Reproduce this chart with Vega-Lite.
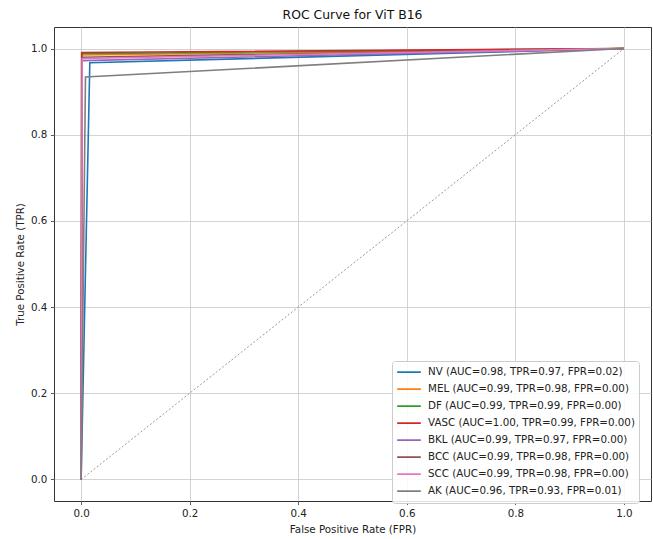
{
  "$schema": "https://vega.github.io/schema/vega-lite/v6.json",
  "width": 597,
  "height": 474,
  "autosize": {"type": "none"},
  "padding": {"left": 54, "top": 27, "right": 2, "bottom": 38},
  "title": {"text": "ROC Curve for ViT B16", "font": "DejaVu Sans", "fontSize": 12.4, "fontWeight": "normal", "color": "#111111", "offset": 6, "anchor": "middle"},
  "config": {
    "view": {"stroke": "#333333", "strokeWidth": 1},
    "font": "DejaVu Sans",
    "axis": {
      "labelFont": "DejaVu Sans", "labelFontSize": 10.3, "labelColor": "#222222",
      "titleFont": "DejaVu Sans", "titleFontSize": 10.3, "titleFontWeight": "normal", "titleColor": "#222222",
      "tickSize": 3.6, "tickColor": "#333333", "tickWidth": 0.8, "labelPadding": 3.6,
      "grid": true, "gridColor": "#c8c8c8", "gridWidth": 0.8,
      "domain": false, "labelFlush": false, "labelOverlap": false
    }
  },
  "datasets": {
    "diag": [
      {"x": 0, "y": 0},
      {"x": 1, "y": 1}
    ],
    "roc": [
      {"label": "NV (AUC=0.98, TPR=0.97, FPR=0.02)", "i": 0, "fpr": 0, "tpr": 0},
      {"label": "NV (AUC=0.98, TPR=0.97, FPR=0.02)", "i": 1, "fpr": 0.016, "tpr": 0.967},
      {"label": "NV (AUC=0.98, TPR=0.97, FPR=0.02)", "i": 2, "fpr": 1, "tpr": 1},
      {"label": "MEL (AUC=0.99, TPR=0.98, FPR=0.00)", "i": 0, "fpr": 0, "tpr": 0},
      {"label": "MEL (AUC=0.99, TPR=0.98, FPR=0.00)", "i": 1, "fpr": 0.002, "tpr": 0.985},
      {"label": "MEL (AUC=0.99, TPR=0.98, FPR=0.00)", "i": 2, "fpr": 1, "tpr": 1},
      {"label": "DF (AUC=0.99, TPR=0.99, FPR=0.00)", "i": 0, "fpr": 0, "tpr": 0},
      {"label": "DF (AUC=0.99, TPR=0.99, FPR=0.00)", "i": 1, "fpr": 0.001, "tpr": 0.988},
      {"label": "DF (AUC=0.99, TPR=0.99, FPR=0.00)", "i": 2, "fpr": 1, "tpr": 1},
      {"label": "VASC (AUC=1.00, TPR=0.99, FPR=0.00)", "i": 0, "fpr": 0, "tpr": 0},
      {"label": "VASC (AUC=1.00, TPR=0.99, FPR=0.00)", "i": 1, "fpr": 0.001, "tpr": 0.991},
      {"label": "VASC (AUC=1.00, TPR=0.99, FPR=0.00)", "i": 2, "fpr": 1, "tpr": 1},
      {"label": "BKL (AUC=0.99, TPR=0.97, FPR=0.00)", "i": 0, "fpr": 0, "tpr": 0},
      {"label": "BKL (AUC=0.99, TPR=0.97, FPR=0.00)", "i": 1, "fpr": 0.002, "tpr": 0.972},
      {"label": "BKL (AUC=0.99, TPR=0.97, FPR=0.00)", "i": 2, "fpr": 1, "tpr": 1},
      {"label": "BCC (AUC=0.99, TPR=0.98, FPR=0.00)", "i": 0, "fpr": 0, "tpr": 0},
      {"label": "BCC (AUC=0.99, TPR=0.98, FPR=0.00)", "i": 1, "fpr": 0.002, "tpr": 0.980},
      {"label": "BCC (AUC=0.99, TPR=0.98, FPR=0.00)", "i": 2, "fpr": 1, "tpr": 1},
      {"label": "SCC (AUC=0.99, TPR=0.98, FPR=0.00)", "i": 0, "fpr": 0, "tpr": 0},
      {"label": "SCC (AUC=0.99, TPR=0.98, FPR=0.00)", "i": 1, "fpr": 0.002, "tpr": 0.977},
      {"label": "SCC (AUC=0.99, TPR=0.98, FPR=0.00)", "i": 2, "fpr": 1, "tpr": 1},
      {"label": "AK (AUC=0.96, TPR=0.93, FPR=0.01)", "i": 0, "fpr": 0, "tpr": 0},
      {"label": "AK (AUC=0.96, TPR=0.93, FPR=0.01)", "i": 1, "fpr": 0.008, "tpr": 0.934},
      {"label": "AK (AUC=0.96, TPR=0.93, FPR=0.01)", "i": 2, "fpr": 1, "tpr": 1}
    ]
  },
  "layer": [
    {
      "data": {"name": "diag"},
      "mark": {"type": "line", "color": "#999999", "strokeWidth": 1, "strokeDash": [2, 2]},
      "encoding": {
        "x": {"field": "x", "type": "quantitative", "scale": {"domain": [-0.05, 1.05], "nice": false, "zero": false},
              "axis": {"values": [0, 0.2, 0.4, 0.6, 0.8, 1.0], "format": ".1f", "title": "False Positive Rate (FPR)", "titlePadding": 6}},
        "y": {"field": "y", "type": "quantitative", "scale": {"domain": [-0.05, 1.05], "nice": false, "zero": false},
              "axis": {"values": [0, 0.2, 0.4, 0.6, 0.8, 1.0], "format": ".1f", "title": "True Positive Rate (TPR)", "titlePadding": 5}}
      }
    },
    {
      "data": {"name": "roc"},
      "mark": {"type": "line", "strokeWidth": 1.6},
      "encoding": {
        "x": {"field": "fpr", "type": "quantitative"},
        "y": {"field": "tpr", "type": "quantitative"},
        "order": {"field": "i", "type": "quantitative"},
        "color": {
          "field": "label", "type": "nominal",
          "scale": {
            "domain": [
              "NV (AUC=0.98, TPR=0.97, FPR=0.02)",
              "MEL (AUC=0.99, TPR=0.98, FPR=0.00)",
              "DF (AUC=0.99, TPR=0.99, FPR=0.00)",
              "VASC (AUC=1.00, TPR=0.99, FPR=0.00)",
              "BKL (AUC=0.99, TPR=0.97, FPR=0.00)",
              "BCC (AUC=0.99, TPR=0.98, FPR=0.00)",
              "SCC (AUC=0.99, TPR=0.98, FPR=0.00)",
              "AK (AUC=0.96, TPR=0.93, FPR=0.01)"
            ],
            "range": ["#1f77b4", "#ff7f0e", "#2ca02c", "#d62728", "#9467bd", "#8c564b", "#e377c2", "#7f7f7f"]
          },
          "legend": {
            "orient": "none", "legendX": 338, "legendY": 334, "title": null,
            "symbolType": "stroke", "symbolSize": 560, "symbolStrokeWidth": 1.8,
            "clipHeight": 14.4, "rowPadding": 2, "padding": 4,
            "labelFont": "DejaVu Sans", "labelFontSize": 10.3, "labelColor": "#222222", "labelOffset": 6, "labelLimit": 400,
            "fillColor": "rgba(255,255,255,0.85)", "strokeColor": "#cccccc", "cornerRadius": 3
          }
        }
      }
    }
  ]
}
